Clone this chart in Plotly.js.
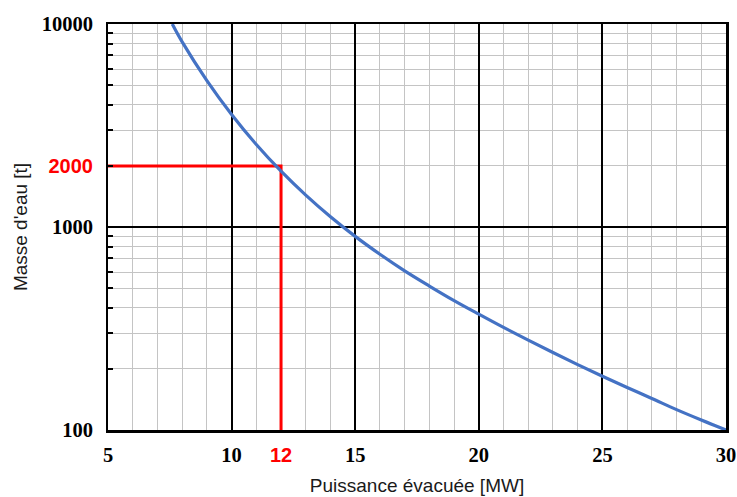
<!DOCTYPE html>
<html>
<head>
<meta charset="utf-8">
<script src="https://cdn.plot.ly/plotly-3.0.1.min.js"></script>
<style>html,body{margin:0;padding:0;background:#fff;}#chart{width:737px;height:497px;}</style>
</head>
<body>
<div id="chart"></div>
<script>
// Data
const power = [7.6, 8, 9, 10, 11, 12, 13, 14, 15, 16, 17, 18, 19, 20, 21, 22, 23, 24, 25, 26, 27, 28, 29, 30];
const mass  = [10000, 8163, 5263, 3583, 2549, 1883, 1435, 1123, 899, 734, 608, 512, 434, 372, 320, 277, 241, 210, 184, 162, 143, 126, 112, 100];

// Reading marker (12 MW -> 2000 t)
const markX = [5, 12, 12];
const markY = [2000, 2000, 100];

// Tick labels
const redStyle = "color:#ff0000;font-family:'Liberation Sans Narrow','Liberation Sans',Arial,sans-serif;font-size:20px";
const xTickVals = [5, 10, 12, 15, 20, 25, 30];
const xTickText = ['5', '10', '<span style="' + redStyle + '"><b>12</b></span>', '15', '20', '25', '30'];
const yTickVals = [100, 1000, 2000, 10000];
const yTickText = ['100', '1000', '<span style="' + redStyle + '"><b>2000</b></span>', '10000'];

// Grid positions
const xMajorGrid = [10, 15, 20, 25];
const xMinorGrid = [6, 7, 8, 9, 11, 12, 13, 14, 16, 17, 18, 19, 21, 22, 23, 24, 26, 27, 28, 29];
const yMajorGrid = [1000];
const yMinorGrid = [200, 300, 400, 500, 600, 700, 800, 900, 2000, 3000, 4000, 5000, 6000, 7000, 8000, 9000];

const tickFont = {family: "'Liberation Serif', 'Times New Roman', serif", size: 20.5, color: '#000', weight: 'bold'};
const titleFont = {family: "'Liberation Sans', Arial, sans-serif", size: 19, color: '#1a1a1a'};

const traces = [
  {
    x: markX, y: markY, xaxis: 'x', yaxis: 'y',
    type: 'scatter', mode: 'lines',
    line: {color: '#ff0000', width: 3},
    cliponaxis: false, hoverinfo: 'skip', showlegend: false
  },
  {
    x: power, y: mass, xaxis: 'x2', yaxis: 'y2',
    type: 'scatter', mode: 'lines',
    line: {color: '#4472c4', width: 3.2, shape: 'spline', smoothing: 1},
    showlegend: false
  }
];

const layout = {
  width: 737, height: 497,
  margin: {l: 108, r: 11, t: 24, b: 67},
  paper_bgcolor: '#fff', plot_bgcolor: '#fff',
  showlegend: false,
  xaxis: {
    range: [5, 30], tickmode: 'array', tickvals: xMajorGrid,
    showticklabels: false, ticks: '',
    showgrid: true, gridcolor: '#000', gridwidth: 2,
    minor: {tickmode: 'array', tickvals: xMinorGrid, showgrid: true, gridcolor: '#c4c4c4', gridwidth: 1, ticks: ''},
    zeroline: false, showline: true, mirror: true, linecolor: '#000', linewidth: 2.5
  },
  yaxis: {
    type: 'log', range: [2, 4], tickmode: 'array', tickvals: yMajorGrid,
    showticklabels: false, ticks: '',
    showgrid: true, gridcolor: '#000', gridwidth: 2,
    minor: {tickmode: 'array', tickvals: yMinorGrid, showgrid: true, gridcolor: '#c4c4c4', gridwidth: 1,
            ticks: 'inside', ticklen: 5, tickwidth: 2, tickcolor: '#000'},
    zeroline: false, showline: true, mirror: true, linecolor: '#000', linewidth: 2.5
  },
  xaxis2: {
    overlaying: 'x', anchor: 'y2', side: 'bottom',
    range: [5, 30], tickmode: 'array', tickvals: xTickVals, ticktext: xTickText,
    tickfont: tickFont, ticks: '', ticklabelstandoff: 10,
    showgrid: false, zeroline: false, showline: false,
    title: {text: 'Puissance évacuée [MW]', font: titleFont, standoff: 14}
  },
  yaxis2: {
    overlaying: 'y', anchor: 'x2', side: 'left', type: 'log',
    range: [2, 4], tickmode: 'array', tickvals: yTickVals, ticktext: yTickText,
    tickfont: tickFont, ticks: '', ticklabelstandoff: 14,
    showgrid: false, zeroline: false, showline: false,
    title: {text: "Masse d'eau [t]", font: titleFont, standoff: 9}
  }
};

Plotly.newPlot('chart', traces, layout, {displayModeBar: false, staticPlot: true});
</script>
</body>
</html>
